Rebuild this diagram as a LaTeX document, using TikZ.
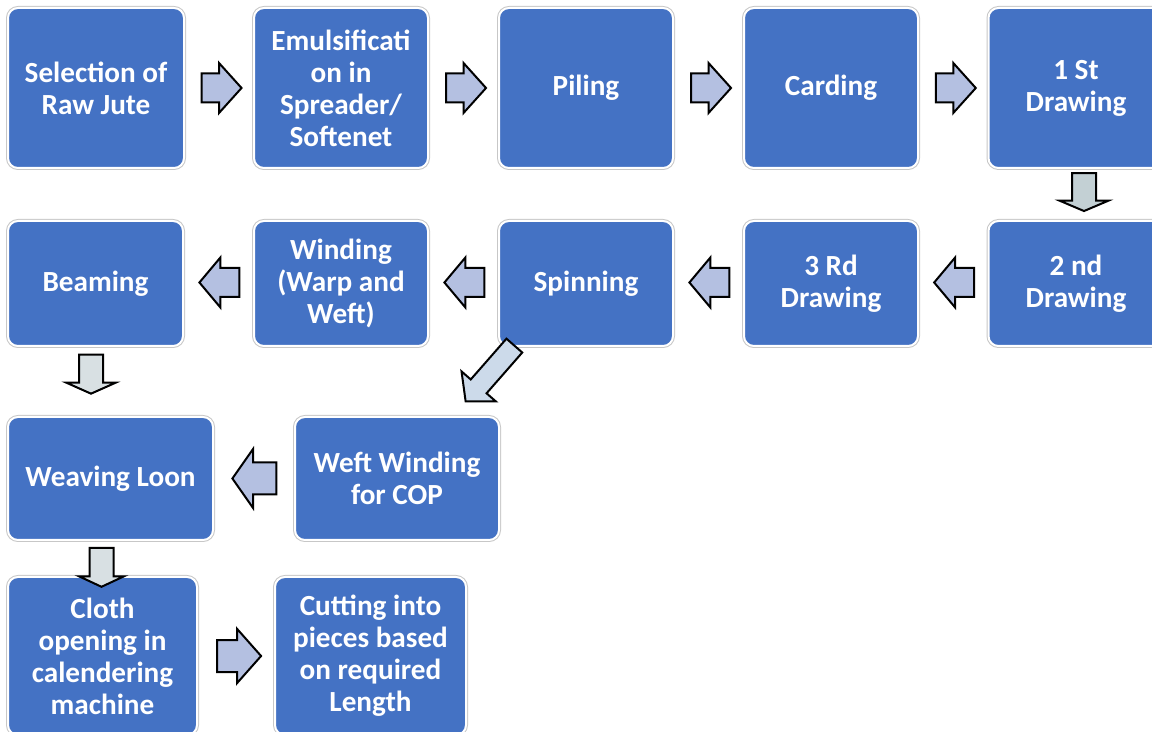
\documentclass[tikz,border=0pt]{standalone}
\usepackage{fontspec}
\setmainfont{Carlito}
\usetikzlibrary{calc, shapes.arrows}

\definecolor{boxblue}{HTML}{4472C4}
\definecolor{arrowlav}{HTML}{B4C0E1}
\definecolor{arrowgrey}{HTML}{C3D0D4}
\definecolor{arrowpale}{HTML}{CCDAEA}
\definecolor{arrowmist}{HTML}{D8E0E3}

\tikzset{
	procbox/.style 2 args = {rectangle, rounded corners = 5pt, inner sep = 0pt,
		minimum width = #1*0.5pt, minimum height = #2*0.5pt,
		preaction = {draw = black!22, line width = 2pt},
		fill = boxblue, draw = white, line width = 1pt,
		text = white, align = center,
		font = \bfseries\fontsize{14.6pt}{16pt}\selectfont},
	flowarrow/.style = {single arrow, inner xsep = 0pt, minimum width = 0pt,
		draw = black, line width = 1pt},
	% length, shaft, head overhang, tip angle
	arrowdim/.style n args = {4}{minimum height = #1*0.5pt, inner ysep = #2*0.25pt,
		single arrow head extend = #3*0.5pt, single arrow tip angle = #4}
}

\begin{document}
\begin{tikzpicture}[x = 0.5pt, y = -0.5pt]
	\def\rowA{88}
	\def\rowB{283.5}
	\def\rowC{478.5}
	\def\rowD{656}

	\useasboundingbox (0,0) rectangle (1152,732);

	% first row, left to right
	\node [procbox = {176}{160}] (sel) at (96,\rowA) {Selection of\\Raw Jute};
	\node [procbox = {174}{160}] (emul) at (341,\rowA) {Emulsificati\\on in\\Spreader/\\Softenet};
	\node [procbox = {174}{160}] (pil) at (586,\rowA) {Piling};
	\node [procbox = {174}{160}] (card) at (831,\rowA) {Carding};
	\node [procbox = {175}{160}] (drwA) at (1076,\rowA) {1 St\\Drawing};

	% second row, right to left
	\node [procbox = {175}{125}] (drwB) at (1076,\rowB) {2 nd\\Drawing};
	\node [procbox = {174}{125}] (drwC) at (831,\rowB) {3 Rd\\Drawing};
	\node [procbox = {174}{125}] (spin) at (586,\rowB) {Spinning};
	\node [procbox = {174}{125}] (wind) at (341,\rowB) {Winding\\(Warp and\\Weft)};
	\node [procbox = {175}{125}] (beam) at (95.5,\rowB) {Beaming};

	% weaving
	\node [procbox = {205}{123}] (weave) at (110.5,\rowC) {Weaving Loon};
	\node [procbox = {204}{123}] (weft) at (397,\rowC) {Weft Winding\\for COP};

	% finishing
	\node [procbox = {189}{158}] (cloth) at (102.5,\rowD) {Cloth\\opening in\\calendering\\machine};
	\node [procbox = {191}{158}] (cut) at (370.5,\rowD) {Cutting into\\pieces based\\on required\\Length};

	\begin{scope}[every node/.style = {flowarrow, fill = arrowlav}]
		\node [arrowdim = {40}{27}{10.5}{96}] (arA) at ($(sel.east)!.5!(emul.west)+(-4,0)$) {};
		\node [arrowdim = {40}{27}{10.5}{96}] (arB) at ($(emul.east)!.5!(pil.west)+(-4,0)$) {};
		\node [arrowdim = {40}{27}{10.5}{96}] (arC) at ($(pil.east)!.5!(card.west)+(-4,0)$) {};
		\node [arrowdim = {40}{27}{10.5}{96}] (arD) at ($(card.east)!.5!(drwA.west)+(-4,0)$) {};

		\node [arrowdim = {40}{27}{10.5}{100}, rotate = 180] (arF) at ($(drwB.west)!.5!(drwC.east)+(7,-1)$) {};
		\node [arrowdim = {40}{27}{10.5}{100}, rotate = 180] (arG) at ($(drwC.west)!.5!(spin.east)+(7,-1)$) {};
		\node [arrowdim = {40}{27}{10.5}{100}, rotate = 180] (arH) at ($(spin.west)!.5!(wind.east)+(7,-1)$) {};
		\node [arrowdim = {40}{27}{10.5}{100}, rotate = 180] (arI) at ($(wind.west)!.5!(beam.east)+(7,-1)$) {};

		\node [arrowdim = {44}{30}{13.5}{110}, rotate = 180] (arL) at ($(weft.west)!.5!(weave.east)+(6,0)$) {};
		\node [arrowdim = {44}{30}{11}{97}] (arN) at ($(cloth.east)!.5!(cut.west)+(-4,0)$) {};
	\end{scope}

	\node [flowarrow, fill = arrowgrey, arrowdim = {38}{22}{12.5}{134}, rotate = 270]
		(arE) at ($(drwA.south)!.5!(drwB.north)+(8,-5)$) {};
	\node [flowarrow, fill = arrowpale, arrowdim = {74}{19}{12.25}{98}, rotate = 228.8]
		(arJ) at ($(spin.south west)!.5!(weft.north east)+(-6,-11.5)$) {};
	\node [flowarrow, fill = arrowmist, arrowdim = {39}{22}{13}{132}, rotate = 270]
		(arK) at ($(beam.south)!.5!(weave.north)+(-12,-10)$) {};
	\node [flowarrow, fill = arrowmist, arrowdim = {39}{22}{10.5}{130}, rotate = 270]
		(arM) at ($(weave.south)!.5!(cloth.north)+(-5,6)$) {};
\end{tikzpicture}
\end{document}
